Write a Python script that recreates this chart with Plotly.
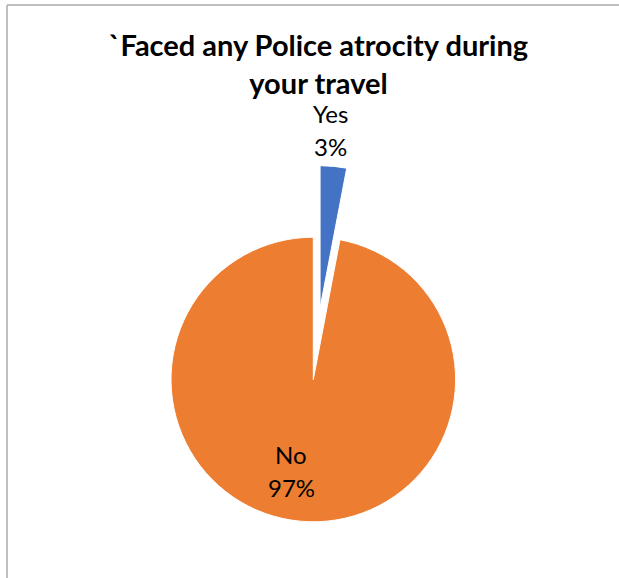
import math
import plotly.graph_objects as go

# Survey answers
labels = ["Yes", "No"]
values = [3, 97]
colors = ["#4472C4", "#ED7D31"]

title_lines = ["`Faced any Police atrocity during", "your travel"]

W, H = 619, 578
FONT = "Lato, Calibri, Arial, sans-serif"

# pie geometry in pixels
cx, cy, r = 313.3, 379.5, 142.3
explode = 0.505  # distance the first slice is pulled out, as a fraction of r

total = sum(values)
shares = [v / total for v in values]

# direction of the exploded slice: bisector of its angle, clockwise from 12 o'clock
mid_angle = math.radians(shares[0] * 360 / 2)
ex_cx = cx + explode * r * math.sin(mid_angle)
ex_cy = cy - explode * r * math.cos(mid_angle)


def domain(px, py, rad):
    return dict(
        x=[(px - rad) / W, (px + rad) / W],
        y=[(H - (py + rad)) / H, (H - (py - rad)) / H],
    )


transparent = "rgba(0,0,0,0)"

fig = go.Figure()

# main body of the pie (the remaining slices)
fig.add_trace(go.Pie(
    labels=labels,
    values=values,
    sort=False,
    direction="clockwise",
    rotation=0,
    domain=domain(cx, cy, r),
    marker=dict(colors=[transparent, colors[1]],
                line=dict(color=[transparent, "white"], width=1)),
    textinfo="none",
    hoverinfo="skip",
    showlegend=False,
))

# exploded first slice
fig.add_trace(go.Pie(
    labels=labels,
    values=values,
    sort=False,
    direction="clockwise",
    rotation=0,
    domain=domain(ex_cx, ex_cy, r),
    marker=dict(colors=[colors[0], transparent],
                line=dict(color=["white", transparent], width=1)),
    textinfo="none",
    hoverinfo="skip",
    showlegend=False,
))

# data labels: category name and rounded percentage, one line each
yes_tip_x = ex_cx + r * math.sin(mid_angle)
yes_tip_y = ex_cy - r * math.cos(mid_angle)
label_pos = [
    (yes_tip_x - 3, yes_tip_y - 53),   # above the exploded slice
    (291, 454),                         # inside the large slice
]
LINE_STEP = 33

annotations = []
for name, share, (lx, ly) in zip(labels, shares, label_pos):
    for i, line in enumerate([name, f"{round(share * 100)}%"]):
        annotations.append(dict(
            text=line,
            x=lx / W, y=1 - (ly + i * LINE_STEP) / H,
            xref="paper", yref="paper",
            xanchor="center", yanchor="middle",
            showarrow=False,
            font=dict(family=FONT, size=24, color="black"),
        ))

fig.update_layout(
    width=W,
    height=H,
    autosize=False,
    margin=dict(l=0, r=0, t=0, b=0),
    paper_bgcolor="white",
    plot_bgcolor="white",
    title=dict(
        text="<b>" + "<br>".join(title_lines) + "</b>",
        font=dict(family=FONT, size=29, color="black"),
        x=318.5 / W,
        xanchor="center",
        xref="container",
        y=1 - 56 / H,
        yanchor="top",
        yref="container",
    ),
    annotations=annotations,
    shapes=[
        # chart area border (top and left edges visible)
        dict(type="line", xref="paper", yref="paper",
             x0=7 / W, x1=1, y0=1 - 5 / H, y1=1 - 5 / H,
             line=dict(color="#ababab", width=1.5)),
        dict(type="line", xref="paper", yref="paper",
             x0=7 / W, x1=7 / W, y0=0, y1=1 - 5 / H,
             line=dict(color="#ababab", width=1.5)),
    ],
)

fig.write_html("out.html")
